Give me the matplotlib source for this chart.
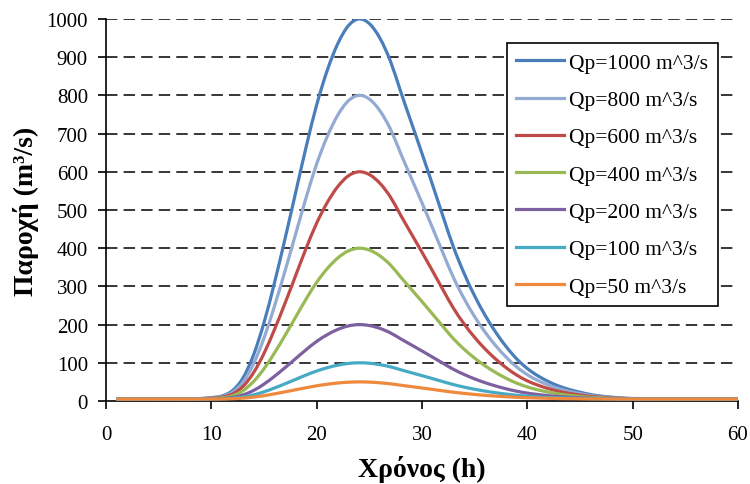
import matplotlib
matplotlib.use('Agg')
import matplotlib.pyplot as plt
from matplotlib.path import Path
from matplotlib.patches import PathPatch
from matplotlib.lines import Line2D

# hydrograph ordinates (m^3/s) for each peak discharge, hourly between 8 h and 50 h
hours = [1, 8, 9, 10, 11, 12, 13, 14, 15, 16, 17, 18, 19, 20, 21, 22, 23, 24,
         25, 26, 27, 28, 29, 30, 31, 32, 33, 34, 35, 36, 37, 38, 39, 40,
         41, 42, 43, 44, 45, 46, 47, 48, 49, 50, 60]

q1000 = [5, 5.5, 6.5, 9, 13, 27, 60, 120, 205, 310, 425, 545, 665, 775, 865, 935, 982, 1000,
         988, 950, 890, 808, 728, 648, 566, 483, 402, 334, 275, 224, 180, 142, 110, 85,
         66, 51, 39, 30, 23, 17, 13, 10, 8, 6.5, 5]
q800 = [5, 5.4, 6.2, 8.2, 11.4, 22.6, 49.0, 96.9, 164.8, 248.7, 340.6, 436.4, 532.3, 620.3, 692.1, 748.1, 785.6, 800,
        790.4, 760.0, 712.1, 646.6, 582.6, 518.7, 453.2, 386.9, 322.2, 267.9, 220.8, 180.0, 144.8, 114.5, 88.9, 68.9,
        53.7, 41.7, 32.2, 25.0, 19.4, 14.6, 11.4, 9.0, 7.4, 6.2, 5]
q600 = [5, 5.3, 5.9, 7.4, 9.8, 18.1, 37.9, 73.8, 124.6, 187.4, 256.1, 327.9, 399.7, 465.5, 519.3, 561.1, 589.2, 600,
        592.8, 570.1, 534.2, 485.2, 437.3, 389.5, 340.5, 290.8, 242.4, 201.8, 166.5, 136.0, 109.7, 86.9, 67.8, 52.8,
        41.5, 32.5, 25.3, 19.9, 15.8, 12.2, 9.8, 8.0, 6.8, 5.9, 5]
q400 = [5, 5.2, 5.6, 6.6, 8.2, 13.7, 26.8, 50.7, 84.4, 126.1, 171.7, 219.4, 267.0, 310.7, 346.4, 374.2, 392.9, 400,
        395.2, 380.1, 356.3, 323.8, 292.0, 260.2, 227.7, 194.8, 162.6, 135.6, 112.2, 91.9, 74.5, 59.4, 46.7, 36.8,
        29.2, 23.2, 18.5, 14.9, 12.1, 9.8, 8.2, 7.0, 6.2, 5.6, 5]
q200 = [5, 5.1, 5.3, 5.8, 6.6, 9.3, 15.8, 27.5, 44.2, 64.8, 87.3, 110.8, 134.3, 155.9, 173.5, 187.3, 196.5, 200,
        197.6, 190.2, 178.4, 162.4, 146.7, 131.0, 114.9, 98.7, 82.8, 69.5, 57.9, 47.9, 39.3, 31.9, 25.6, 20.7,
        17.0, 14.0, 11.7, 9.9, 8.5, 7.4, 6.6, 6.0, 5.6, 5.3, 5]
q100 = [5, 5.05, 5.1, 5.4, 5.8, 7.1, 10.3, 16.0, 24.1, 34.1, 45.1, 56.6, 68.0, 78.5, 87.1, 93.8, 98.3, 100,
        98.9, 95.2, 89.5, 81.7, 74.0, 66.4, 58.6, 50.6, 42.9, 36.4, 30.8, 25.9, 21.7, 18.1, 15.0, 12.6,
        10.8, 9.4, 8.2, 7.4, 6.7, 6.1, 5.8, 5.5, 5.3, 5.1, 5]
q50 = [5, 5.0, 5.1, 5.2, 5.4, 6.0, 7.5, 10.2, 14.0, 18.8, 24.0, 29.4, 34.8, 39.8, 43.9, 47.1, 49.2, 50,
       49.5, 47.7, 45.0, 41.3, 37.7, 34.1, 30.4, 26.6, 23.0, 19.9, 17.2, 14.9, 12.9, 11.2, 9.7, 8.6,
       7.8, 7.1, 6.5, 6.1, 5.8, 5.5, 5.4, 5.2, 5.1, 5.1, 5]

series = [q1000, q800, q600, q400, q200, q100, q50]
labels = ['Qp=1000 m^3/s', 'Qp=800 m^3/s', 'Qp=600 m^3/s', 'Qp=400 m^3/s',
          'Qp=200 m^3/s', 'Qp=100 m^3/s', 'Qp=50 m^3/s']
colors = ['#4A7EBB', '#93AAD2', '#BE4B48', '#98B954', '#7D60A0', '#46AAC5', '#EE893D']


def smooth_path(xs, ys):
    # smoothed line through every data point (cubic Bezier segments, Catmull-Rom tangents)
    n = len(xs)
    verts = [(xs[0], ys[0])]
    codes = [Path.MOVETO]
    for i in range(n - 1):
        i0 = max(i - 1, 0)
        i3 = min(i + 2, n - 1)
        dx1 = min((xs[i + 1] - xs[i0]) / 6, (xs[i + 1] - xs[i]) / 3)
        dy1 = (ys[i + 1] - ys[i0]) / 6 * dx1 / ((xs[i + 1] - xs[i0]) / 6)
        dx2 = min((xs[i3] - xs[i]) / 6, (xs[i + 1] - xs[i]) / 3)
        dy2 = (ys[i3] - ys[i]) / 6 * dx2 / ((xs[i3] - xs[i]) / 6)
        verts += [(xs[i] + dx1, ys[i] + dy1),
                  (xs[i + 1] - dx2, ys[i + 1] - dy2),
                  (xs[i + 1], ys[i + 1])]
        codes += [Path.CURVE4] * 3
    return Path(verts, codes)


plt.rcParams['font.family'] = ['Liberation Serif', 'DejaVu Serif']

fig = plt.figure(figsize=(7.5, 4.85), dpi=100)
ax = fig.add_axes([0.1413, 0.1711, 0.8427, 0.7877])

for y in range(100, 1001, 100):
    ax.axhline(y, color='black', lw=1.1, linestyle=(0, (7.5, 4)), zorder=1)

handles = []
for q, lab, c in zip(series, labels, colors):
    ax.add_patch(PathPatch(smooth_path(hours, q), facecolor='none', edgecolor=c,
                           lw=2.3, zorder=3, capstyle='butt'))
    handles.append(Line2D([], [], color=c, lw=2.3, label=lab))

ax.set_xlim(0, 60)
ax.set_ylim(0, 1000)
ax.set_xticks(range(0, 61, 10))
ax.set_yticks(range(0, 1001, 100))
ax.spines['top'].set_visible(False)
ax.spines['right'].set_visible(False)
ax.spines['left'].set_linewidth(1.2)
ax.spines['bottom'].set_linewidth(1.2)
ax.tick_params(axis='y', direction='out', length=6, width=1.2, pad=7, labelsize=15)
ax.tick_params(axis='x', direction='out', length=6, width=1.2, pad=11, labelsize=15)
for t in ax.get_xticklabels():
    t.set_clip_on(False)

ax.set_xlabel('Χρόνος (h)', fontsize=20, fontweight='bold', labelpad=8)
ax.set_ylabel('Παροχή (m³/s)', fontsize=20, fontweight='bold', labelpad=5)

leg = ax.legend(handles=handles, loc='upper left', bbox_to_anchor=(0.634, 0.937), borderaxespad=0,
                fontsize=15.5, handlelength=2.2, handletextpad=0.25, labelspacing=0.8,
                frameon=True, fancybox=False, edgecolor='black', framealpha=1, borderpad=0.45)
leg.get_frame().set_linewidth(1.2)
leg.set_zorder(5)

fig.savefig('out.png', dpi=100)
